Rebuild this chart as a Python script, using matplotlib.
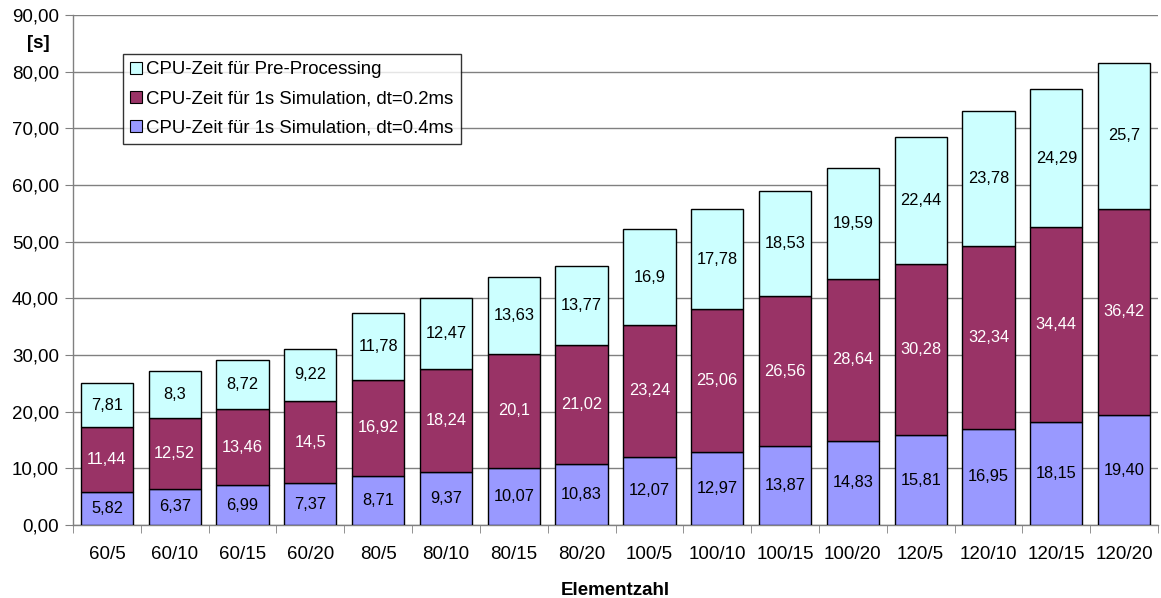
import matplotlib
matplotlib.use("Agg")
import matplotlib.pyplot as plt
from matplotlib.patches import Patch
from matplotlib.ticker import FuncFormatter, FixedLocator

plt.rcParams['font.family'] = ['Liberation Sans', 'DejaVu Sans']

categories = ["60/5", "60/10", "60/15", "60/20", "80/5", "80/10", "80/15", "80/20",
              "100/5", "100/10", "100/15", "100/20", "120/5", "120/10", "120/15", "120/20"]
sim_04 = [5.82, 6.37, 6.99, 7.37, 8.71, 9.37, 10.07, 10.83,
          12.07, 12.97, 13.87, 14.83, 15.81, 16.95, 18.15, 19.40]
sim_02 = [11.44, 12.52, 13.46, 14.5, 16.92, 18.24, 20.1, 21.02,
          23.24, 25.06, 26.56, 28.64, 30.28, 32.34, 34.44, 36.42]
pre = [7.81, 8.3, 8.72, 9.22, 11.78, 12.47, 13.63, 13.77,
       16.9, 17.78, 18.53, 19.59, 22.44, 23.78, 24.29, 25.7]
labels_04 = ["5,82", "6,37", "6,99", "7,37", "8,71", "9,37", "10,07", "10,83",
             "12,07", "12,97", "13,87", "14,83", "15,81", "16,95", "18,15", "19,40"]

legend_labels = ["CPU-Zeit für Pre-Processing",
                 "CPU-Zeit für 1s Simulation, dt=0.2ms",
                 "CPU-Zeit für 1s Simulation, dt=0.4ms"]

c_pre = "#CCFFFF"
c_02 = "#993366"
c_04 = "#9999FF"


def de(v):
    return ("%g" % v).replace(".", ",")


fig = plt.figure(figsize=(11.61, 5.98), dpi=100)
ax = fig.add_axes([73 / 1161, 1 - 525 / 598, (1158 - 73) / 1161, 510 / 598])

x = list(range(len(categories)))
w = 0.77
ax.bar(x, sim_04, w, color=c_04, edgecolor="black", linewidth=1.0, zorder=3)
bottom2 = sim_04
ax.bar(x, sim_02, w, bottom=bottom2, color=c_02, edgecolor="black", linewidth=1.0, zorder=3)
bottom3 = [a + b for a, b in zip(sim_04, sim_02)]
ax.bar(x, pre, w, bottom=bottom3, color=c_pre, edgecolor="black", linewidth=1.0, zorder=3)

fs = 11.8
for i in x:
    ax.text(i, sim_04[i] / 2, labels_04[i], ha="center", va="center", fontsize=fs, color="black", zorder=4)
    ax.text(i, bottom2[i] + sim_02[i] / 2, de(sim_02[i]), ha="center", va="center", fontsize=fs, color="white", zorder=4)
    ax.text(i, bottom3[i] + pre[i] / 2, de(pre[i]), ha="center", va="center", fontsize=fs, color="black", zorder=4)

ax.set_xlim(-0.5, len(categories) - 0.5)
ax.set_ylim(0, 90)
ax.set_yticks(range(0, 91, 10))
ax.yaxis.set_major_formatter(FuncFormatter(lambda v, p: ("%.2f" % v).replace(".", ",")))
ax.grid(axis="y", color="#808080", linewidth=1.0, zorder=0)

ax.set_xticks(x)
ax.set_xticklabels(categories, fontsize=13.5)
ax.tick_params(axis="x", length=0, pad=15)
ax.xaxis.set_minor_locator(FixedLocator([i - 0.5 for i in range(len(categories) + 1)]))
ax.tick_params(axis="x", which="minor", length=6, color="#808080", direction="out")
ax.tick_params(axis="y", labelsize=13.5, length=6, color="#808080", direction="out", pad=4)

for s in ["top", "right"]:
    ax.spines[s].set_visible(False)
for s in ["left", "bottom"]:
    ax.spines[s].set_color("#808080")
    ax.spines[s].set_linewidth(1.0)

ax.set_xlabel("Elementzahl", fontsize=13.5, fontweight="bold", labelpad=14)
fig.text(38 / 1161, 1 - 43 / 598, "[s]", fontsize=13.5, fontweight="bold", ha="center", va="center")

handles = [Patch(facecolor=c_pre, edgecolor="black", linewidth=0.8),
           Patch(facecolor=c_02, edgecolor="black", linewidth=0.8),
           Patch(facecolor=c_04, edgecolor="black", linewidth=0.8)]
leg = ax.legend(handles, legend_labels, loc="upper left", bbox_to_anchor=(123 / 1161, 1 - 54 / 598),
                bbox_transform=fig.transFigure, fontsize=13.4, frameon=True, fancybox=False,
                handlelength=0.6, handleheight=0.6, handletextpad=0.25, borderpad=0.4,
                labelspacing=0.65, borderaxespad=0)
leg.get_frame().set_edgecolor("black")
leg.get_frame().set_linewidth(1.0)
leg.set_zorder(5)

fig.savefig("out.png", dpi=100)
